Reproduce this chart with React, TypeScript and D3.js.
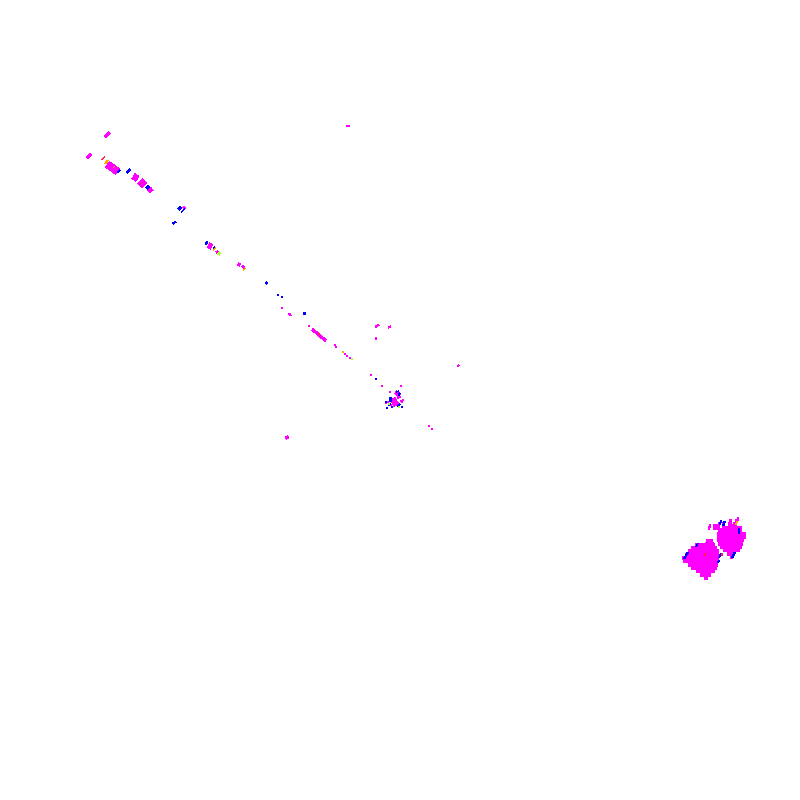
import { useEffect, useRef } from 'react'
import * as d3 from 'd3'

// embedding coordinates
type Seg = [number, number, number, number, number] // x1, y1, x2, y2, weight
type Pt = [number, number]
type Span = [number, number, number] // y, x0, x1

const leftClusterSpans: Span[] = [
  [541, 706, 713], [544, 705, 714], [545, 695, 715], [548, 691, 717], [551, 688, 719], [555, 685, 719],
  [558, 682, 719], [561, 683, 719], [565, 688, 718], [568, 691, 717], [571, 696, 715],
  [575, 700, 711], [578, 704, 708],
]
const rightClusterSpans: Span[] = [
  [519, 737, 739], [521, 729, 732], [521, 735, 738], [524, 718, 720], [524, 722, 724], [524, 728, 732], [524, 733, 737],
  [526, 709, 711], [526, 713, 720], [526, 722, 725], [526, 728, 735],
  [528, 708, 710], [528, 713, 719], [528, 722, 742], [530, 718, 742], [534, 717, 746],
  [537, 717, 746], [540, 717, 744], [544, 718, 743], [547, 720, 742],
  [550, 723, 740], [554, 727, 735], [557, 730, 733],
]

const magentaSegs: Seg[] = [
  [104.5, 137.5, 109.5, 132.5, 4], [86.5, 158.5, 91, 154, 3], [107, 164, 118, 172, 8], [133, 176, 138, 179, 7],
  [140, 181, 145, 186, 8], [148, 191.5, 152.5, 188.5, 5], [183, 209, 185, 207, 3], [208, 245, 212, 247, 6],
  [216, 253, 218.5, 251, 3], [238, 266, 240, 263, 3.5], [242, 268, 244, 266, 3.5], [289, 313, 291, 316, 2.5],
  [312, 329, 326, 341, 3.5], [346, 126, 350, 126, 1.5], [375, 327, 379, 324.5, 2.5], [388, 328, 391, 326, 2],
  [375, 338, 377, 338, 3], [457, 367, 459, 365, 2], [286, 436, 288, 439, 4],
  [393, 398, 396, 406, 6], [395, 392, 399, 395, 4.5], [399, 393, 400, 398, 2],
]
const magentaPts: Pt[] = [
  [281.5, 308], [309, 326], [334.5, 345], [336, 347], [345, 354], [347, 356], [350, 358],
  [371, 375], [382, 386], [401, 386], [390, 392], [400, 394], [399, 396],
  [398, 398], [388, 402], [401, 401], [389, 404], [402, 402], [429, 426], [432, 429],
  [391, 405], [398, 403], [386, 403], [403, 400],
]
const blueSegs: Seg[] = [
  [117, 173, 120, 170, 2], [126.5, 173, 130.5, 169, 3.5], [146, 189, 149, 186, 3.5], [178, 210, 181, 207, 4],
  [181, 212, 185, 209, 1.5], [172.5, 224, 176, 221.5, 2.5], [205, 244, 208, 242, 3], [213, 249, 215, 247, 2],
  [265.5, 284, 267.5, 282, 2.5], [278, 294, 278, 296, 2.5], [304, 312, 304, 315, 3],
  [696, 547, 698, 543, 2], [684, 559, 688, 552, 2.5], [719, 558, 721, 553, 2], [718, 563, 719, 560, 2],
  [732, 558, 735, 552, 3], [738.5, 534, 739.5, 528, 2], [720, 525, 721, 520, 2], [723, 526, 725, 521, 2.5],
  [390, 397, 391, 402, 3], [396, 392, 399, 391, 1.5], [398, 395, 400, 393, 1.5], [388, 405, 391, 404, 2],
  [397, 407, 400, 404, 1.5],
]
const bluePts: Pt[] = [
  [281.5, 297], [376, 379], [387, 408], [386, 402], [399, 395],
  [392, 407], [402, 407],
]
const orangeSegs: Seg[] = [
  [105, 164, 108, 160, 2.5], [213, 250, 216, 248, 1.5], [243, 270, 245.5, 268, 1.5], [736, 525, 737, 521, 2],
  [113, 168, 115, 166, 1],
]
const orangePts: Pt[] = [[343, 352]]
const crimsonSegs: Seg[] = [
  [101.5, 160, 105, 157, 1.5], [705, 556, 705.5, 553, 2], [722, 556, 722.5, 553, 2], [141, 184, 143, 182, 1],
]
const crimsonPts: Pt[] = [[319, 334]]
const limeSegs: Seg[] = [[218, 255, 220.5, 252, 3]]
const limePts: Pt[] = [[352, 359], [389, 404], [399, 407]]

const seriesColors = {
  magenta: '#ff00ff',
  blue: '#0000ff',
  orange: '#ffa500',
  crimson: '#ff2040',
  lime: '#adff2f',
}

const App = () => {
  const svgRef = useRef<SVGSVGElement>(null)

  useEffect(() => {
    if (!svgRef.current) return
    const svg = d3.select(svgRef.current)
    svg.selectAll('*').remove()

    const width = 800
    const height = 800
    const x = d3.scaleLinear().domain([0, 800]).range([0, width])
    const y = d3.scaleLinear().domain([0, 800]).range([0, height])
    const g = svg.append('g').attr('shape-rendering', 'crispEdges')

    const spans = g.append('g').attr('fill', seriesColors.magenta)
    spans.selectAll('rect')
      .data([...leftClusterSpans, ...rightClusterSpans])
      .join('rect')
      .attr('x', d => x(d[1]))
      .attr('y', d => y(d[0]) - 1.75)
      .attr('width', d => x(d[2]) - x(d[1]))
      .attr('height', y(3.5) - y(0))

    const drawSeries = (color: string, segs: Seg[], pts: Pt[]) => {
      const s = g.append('g')
      s.selectAll('line')
        .data(segs)
        .join('line')
        .attr('x1', d => x(d[0]))
        .attr('y1', d => y(d[1]))
        .attr('x2', d => x(d[2]))
        .attr('y2', d => y(d[3]))
        .attr('stroke', color)
        .attr('stroke-width', d => d[4])
      s.selectAll('rect')
        .data(pts)
        .join('rect')
        .attr('x', d => x(d[0]) - 1)
        .attr('y', d => y(d[1]) - 1)
        .attr('width', 2)
        .attr('height', 2)
        .attr('fill', color)
    }

    drawSeries(seriesColors.magenta, magentaSegs, magentaPts)
    drawSeries(seriesColors.blue, blueSegs, bluePts)
    drawSeries(seriesColors.orange, orangeSegs, orangePts)
    drawSeries(seriesColors.crimson, crimsonSegs, crimsonPts)
    drawSeries(seriesColors.lime, limeSegs, limePts)
  }, [])

  return (
    <svg
      ref={svgRef}
      width={800}
      height={800}
      style={{ position: 'absolute', left: 0, top: 0, background: '#fff' }}
    />
  )
}

export default App
